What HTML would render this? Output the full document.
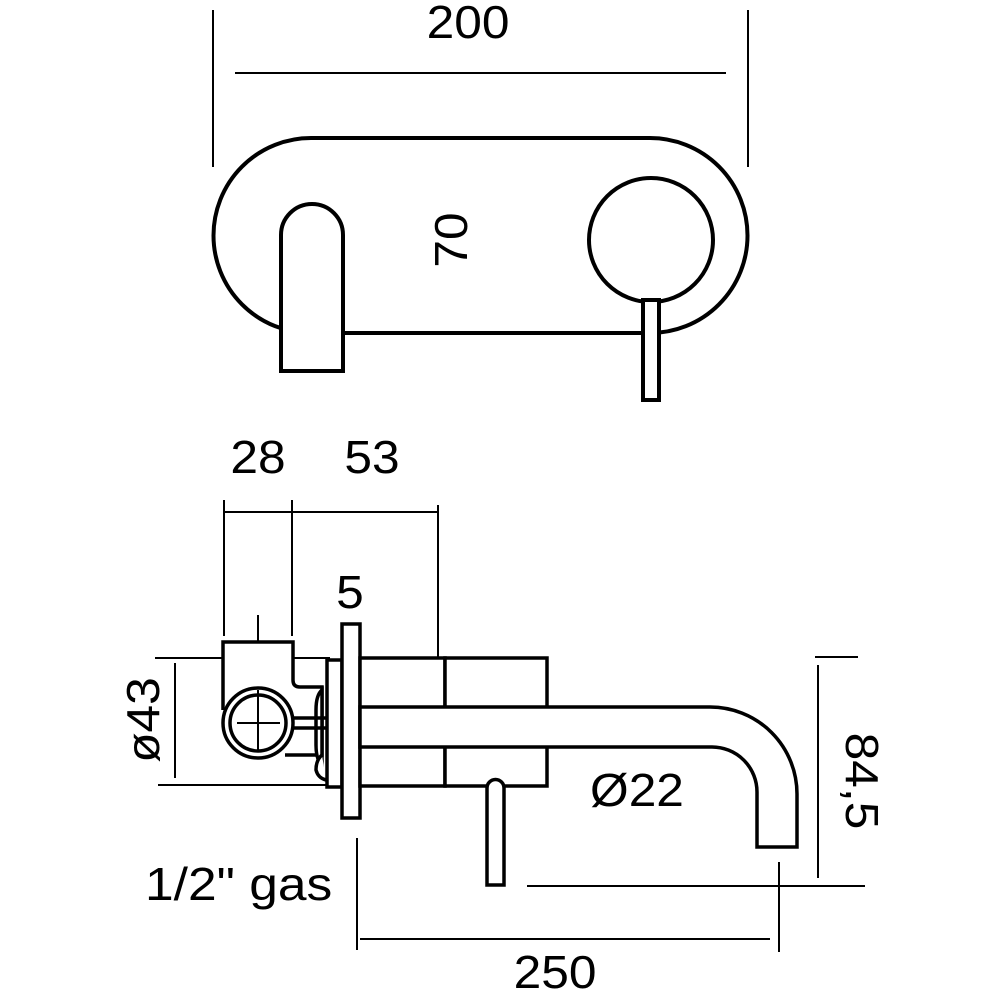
<!DOCTYPE html>
<html><head><style>
html,body{margin:0;padding:0;background:#fff;}
svg{display:block;}
text{font-family:"Liberation Sans",sans-serif;fill:#000;}
</style></head><body>
<svg width="1000" height="1000" viewBox="0 0 1000 1000" xmlns="http://www.w3.org/2000/svg">
<g fill="none" stroke="#000" stroke-width="2">
<line x1="213" y1="10" x2="213" y2="167"/>
<line x1="748" y1="10" x2="748" y2="167"/>
<line x1="235" y1="73" x2="726" y2="73"/>
<line x1="481" y1="168" x2="481" y2="304"/>
</g>
<g fill="#fff" stroke="#000" stroke-width="4">
<path d="M311,138 H650 A97.5,97.5 0 0 1 650,333 H311 A97.5,97.5 0 0 1 311,138 Z"/>
<circle cx="651" cy="240" r="62"/>
<rect x="643" y="300" width="16" height="100"/>
<path d="M281,371 V235 A31,31 0 0 1 343,235 V371 Z"/>
</g>
<text font-size="46" text-anchor="middle" transform="translate(468 38) scale(1.08 1)">200</text>
<text font-size="46" text-anchor="middle" transform="translate(467 240) rotate(-90) scale(1.08 1)">70</text>

<g fill="none" stroke="#000" stroke-width="2">
<line x1="224" y1="500" x2="224" y2="636"/>
<line x1="292" y1="500" x2="292" y2="636"/>
<line x1="438" y1="505" x2="438" y2="657"/>
<line x1="224" y1="512" x2="438" y2="512"/>
<line x1="258" y1="615" x2="258" y2="740"/>
<line x1="155" y1="658" x2="330" y2="658"/>
<line x1="158" y1="785" x2="327" y2="785"/>
<line x1="175" y1="663" x2="175" y2="778"/>
<line x1="357" y1="838" x2="357" y2="950"/>
<line x1="360" y1="939" x2="770" y2="939"/>
<line x1="779" y1="862" x2="779" y2="952"/>
<line x1="527" y1="886" x2="865" y2="886"/>
<line x1="818" y1="665" x2="818" y2="878"/>
<line x1="815" y1="657" x2="858" y2="657"/>
</g>
<g fill="#fff" stroke="#000" stroke-width="3.5">
<path d="M223,710 V642 H293 V680 Q293,687 300,687 H322 V755 H285"/>
<path d="M322,690 Q316,695 316,710 V745 Q316,760 322,765 Z"/>
<path d="M322,755 Q316,760 316,770 Q318,778 326,780"/>
<line x1="290" y1="718" x2="327" y2="718"/>
<line x1="290" y1="728" x2="327" y2="728"/>
<circle cx="258" cy="723" r="35"/>
<circle cx="258" cy="723" r="28"/>
<rect x="327" y="660" width="15" height="127"/>
<rect x="342" y="624" width="18" height="194"/>
<rect x="360" y="658" width="85" height="128"/>
<rect x="445" y="658" width="102" height="128"/>
<path d="M360,707 H710 A87,87 0 0 1 797,794 V847 H757 V792 A45,45 0 0 0 712,747 H360 Z"/>
<path d="M487,885 V788 A8.5,8.5 0 0 1 504,788 V885 Z"/>
</g>
<g stroke="#000" stroke-width="2">
<line x1="258" y1="690" x2="258" y2="750"/>
<line x1="237" y1="723" x2="280" y2="723"/>
</g>
<text font-size="46" text-anchor="middle" transform="translate(258 473) scale(1.08 1)">28</text>
<text font-size="46" text-anchor="middle" transform="translate(372 473) scale(1.08 1)">53</text>
<text font-size="46" text-anchor="middle" transform="translate(350 608) scale(1.08 1)">5</text>
<text font-size="46" text-anchor="middle" transform="translate(159 720) rotate(-90) scale(1.08 1)">ø43</text>
<text font-size="46" transform="translate(145 900) scale(1.12 1)">1/2" gas</text>
<text font-size="46" text-anchor="middle" transform="translate(637 806) scale(1.08 1)">Ø22</text>
<text font-size="46" text-anchor="middle" transform="translate(846 781) rotate(90) scale(1.08 1)">84,5</text>
<text font-size="46" text-anchor="middle" transform="translate(555 988) scale(1.08 1)">250</text>
</svg>
</body></html>
